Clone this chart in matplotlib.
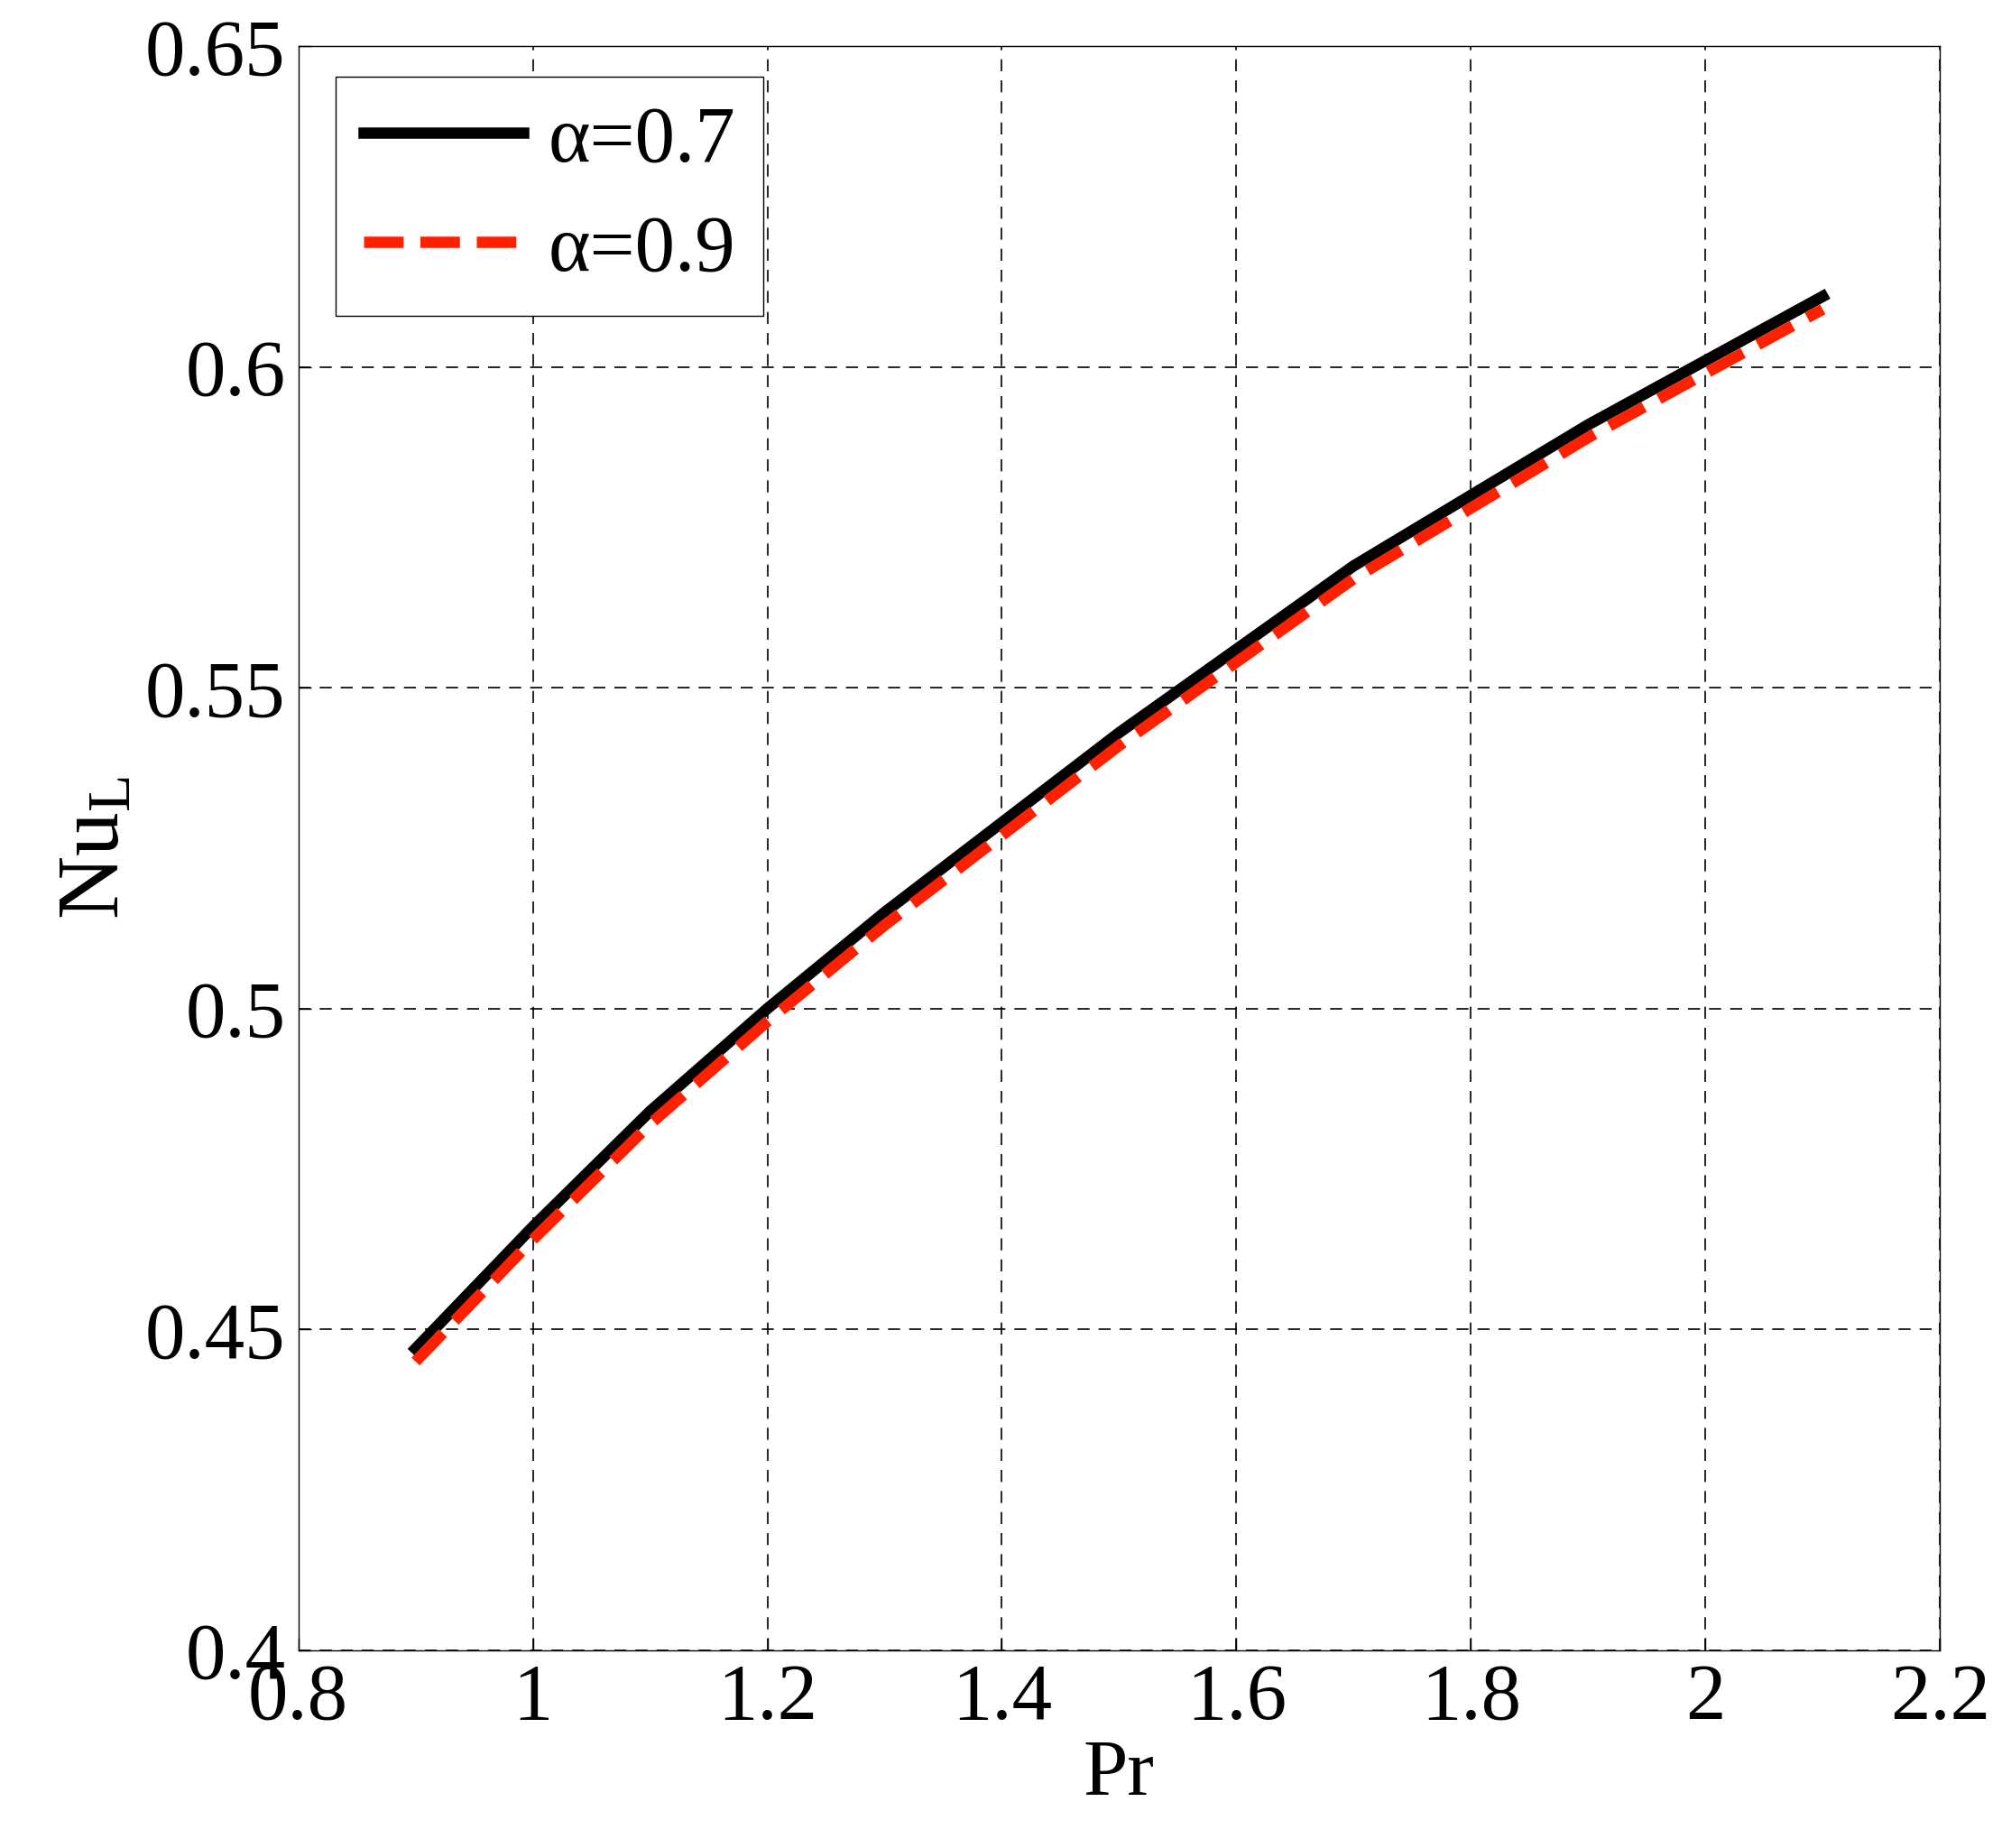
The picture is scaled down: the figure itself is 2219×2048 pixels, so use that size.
import numpy as np
import matplotlib.pyplot as plt

pr = [0.9, 1.0, 1.1, 1.2, 1.3, 1.4, 1.5, 1.6, 1.7, 1.8, 1.9, 2.0, 2.1]
nu_a07 = [0.447, 0.466, 0.484, 0.500, 0.515, 0.529, 0.543, 0.556, 0.569, 0.580, 0.591, 0.601, 0.611]
nu_a09 = [0.445, 0.464, 0.482, 0.498, 0.513, 0.527, 0.541, 0.554, 0.567, 0.578, 0.589, 0.599, 0.609]

plt.rcParams.update({
    'font.family': 'serif',
    'font.serif': ['Liberation Serif', 'DejaVu Serif'],
    'mathtext.fontset': 'custom',
    'mathtext.rm': 'Liberation Serif',
    'mathtext.it': 'Liberation Serif',
    'font.size': 64,
})

fig = plt.figure(figsize=(22.19, 20.48), dpi=100)
ax = fig.add_axes([0.149, 0.107, 0.82, 0.868])

ax.plot(pr, nu_a07, '-', color='black', linewidth=9, label='α=0.7')
ax.plot(pr, nu_a09, '--', color='#ff2000', linewidth=9, dashes=(3.5, 1.5), label='α=0.9')

ax.set_xlim(0.8, 2.2)
ax.set_ylim(0.4, 0.65)
ax.set_xticks([0.8, 1.0, 1.2, 1.4, 1.6, 1.8, 2.0, 2.2])
ax.set_xticklabels(['0.8', '1', '1.2', '1.4', '1.6', '1.8', '2', '2.2'])
ax.set_yticks([0.4, 0.45, 0.5, 0.55, 0.6, 0.65])
ax.set_yticklabels(['0.4', '0.45', '0.5', '0.55', '0.6', '0.65'])
ax.grid(True, color='black', linestyle=(0, (8, 6)), linewidth=1.2)
ax.tick_params(direction='in', length=10, width=1, pad=10)
for s in ax.spines.values():
    s.set_linewidth(1)

ax.set_xlabel('Pr', labelpad=2)
ax.set_ylabel(r'Nu$_\mathregular{L}$', fontsize=70, labelpad=6)

leg = ax.legend(loc='upper left', bbox_to_anchor=(0.0225, 0.981), borderaxespad=0,
                fancybox=False, edgecolor='black', framealpha=1, handlelength=2.0,
                fontsize=64, borderpad=0.35, labelspacing=0.45, handletextpad=0.3)
leg.get_frame().set_linewidth(1)

fig.savefig('out.png', dpi=100)
